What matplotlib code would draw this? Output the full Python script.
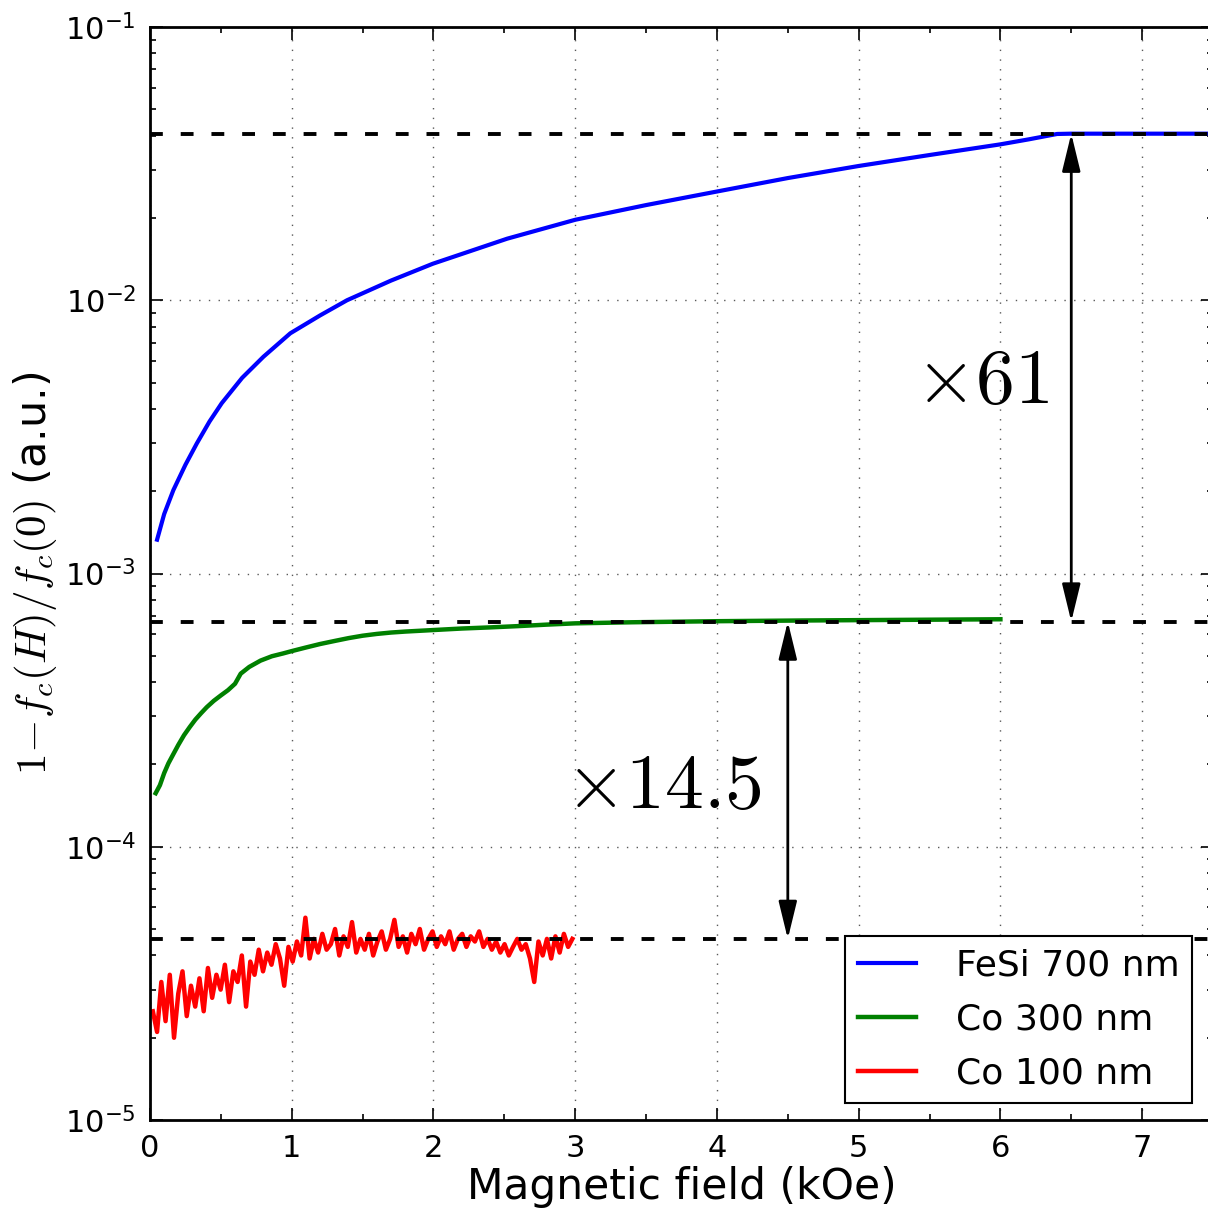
import numpy as np
import matplotlib
matplotlib.use("Agg")
import matplotlib.pyplot as plt
from matplotlib.ticker import MultipleLocator, FuncFormatter, LogLocator

# FeSi 700 nm
fesi_x = [0.05, 0.10, 0.165, 0.25, 0.33, 0.42, 0.506, 0.65, 0.80, 0.99, 1.2, 1.39,
          1.7, 1.995, 2.52, 3.0, 3.5, 4.0, 4.5, 5.0, 5.5, 6.0, 6.2, 6.4, 6.5, 7.0, 7.5]
fesi_y = [1.33e-3, 1.65e-3, 2.02e-3, 2.50e-3, 2.99e-3, 3.6e-3, 4.20e-3, 5.2e-3,
          6.21e-3, 7.57e-3, 8.8e-3, 1.00e-2, 1.18e-2, 1.36e-2, 1.68e-2, 1.97e-2,
          2.23e-2, 2.50e-2, 2.80e-2, 3.10e-2, 3.40e-2, 3.72e-2, 3.88e-2, 4.06e-2,
          4.07e-2, 4.07e-2, 4.07e-2]

# Co 300 nm
co300_x = [0.04, 0.07, 0.10, 0.13, 0.16, 0.20, 0.24, 0.28, 0.32, 0.36, 0.40, 0.45,
           0.50, 0.55, 0.60, 0.64, 0.70, 0.78, 0.86, 0.94, 1.0, 1.1, 1.2, 1.3, 1.4,
           1.5, 1.6, 1.7, 1.8, 2.0, 2.2, 2.4, 2.6, 2.8, 3.0, 3.2, 3.4, 3.6, 3.8,
           4.0, 4.3, 4.6, 5.0, 5.4, 5.8, 6.0]
co300_y = [1.57e-4, 1.68e-4, 1.86e-4, 2.02e-4, 2.16e-4, 2.36e-4, 2.56e-4, 2.74e-4,
           2.92e-4, 3.08e-4, 3.24e-4, 3.42e-4, 3.58e-4, 3.74e-4, 3.95e-4, 4.30e-4,
           4.55e-4, 4.80e-4, 4.98e-4, 5.10e-4, 5.20e-4, 5.36e-4, 5.52e-4, 5.66e-4,
           5.80e-4, 5.92e-4, 6.01e-4, 6.08e-4, 6.13e-4, 6.21e-4, 6.29e-4, 6.35e-4,
           6.42e-4, 6.50e-4, 6.57e-4, 6.60e-4, 6.63e-4, 6.65e-4, 6.67e-4, 6.69e-4,
           6.71e-4, 6.73e-4, 6.75e-4, 6.77e-4, 6.79e-4, 6.80e-4]

# Co 100 nm, field sweep 0.02 .. 2.98 kOe, values in units of 1e-5
co100_y = [2.5, 2.1, 3.2, 2.3, 3.4, 2.0, 2.9, 3.5, 2.4, 3.1, 2.6,
           3.3, 2.5, 3.6, 2.8, 3.4, 3.0, 3.7,
           2.7, 3.5, 3.2, 4.0, 2.6, 3.8, 3.4, 4.2, 3.5,
           4.1, 3.7, 4.4, 3.9, 3.1, 4.3, 3.8, 4.5, 4.0, 5.5,
           3.9, 4.6, 4.1, 4.8, 4.2, 4.4, 5.0, 4.0, 4.7, 4.3, 5.3, 4.1, 4.6, 4.2,
           4.8, 4.0, 4.5, 4.9, 4.2, 4.6, 5.4, 4.3, 4.7, 4.1, 4.8, 4.4, 5.0, 4.2,
           4.6, 4.9, 4.3,
           4.7, 4.4, 4.9, 4.2, 4.6, 4.8, 4.3, 4.7, 4.5, 4.9, 4.3, 4.6, 4.2, 4.5,
           4.1, 4.4, 4.0, 4.3,
           4.6, 4.2, 4.4, 3.9, 3.2, 4.5, 4.0, 4.6, 3.9, 4.7, 4.1, 4.8, 4.3, 4.6]
co100_x = np.linspace(0.02, 2.98, len(co100_y))

levels = [4.07e-2, 6.67e-4, 4.6e-5]
labels = ["FeSi 700 nm", "Co 300 nm", "Co 100 nm"]

W, H = 1208, 1218
fig = plt.figure(figsize=(W / 100, H / 100), dpi=100)
ax = fig.add_axes([150 / W, (H - 1120) / H, (1213 - 150) / W, (1120 - 27) / H])

ax.plot(fesi_x, fesi_y, color="#0000ff", lw=3, label=labels[0])
ax.plot(co300_x, co300_y, color="#008000", lw=3.2, label=labels[1])
ax.plot(co100_x, np.array(co100_y) * 1e-5, color="#ff0000", lw=3.2, label=labels[2])

for lv in levels:
    ax.axhline(lv, color="black", lw=2.8, dashes=(3.3, 4.6))

ax.set_yscale("log")
ax.set_xlim(0, 7.5)
ax.set_ylim(1e-5, 1e-1)

# double arrows between plateaus
arrow = dict(arrowstyle="<|-|>,head_length=1.15,head_width=0.28", mutation_scale=20,
             lw=2, color="black", shrinkA=0, shrinkB=0)
ax.annotate("", xy=(6.5, levels[0]), xytext=(6.5, levels[1]), arrowprops=arrow)
ax.annotate("", xy=(4.5, levels[1]), xytext=(4.5, levels[2]), arrowprops=arrow)
ax.text(5.40, 4.2e-3, r"$\times61$", fontsize=56, math_fontfamily="cm",
        ha="left", va="baseline")
ax.text(2.93, 1.39e-4, r"$\times14.5$", fontsize=56, math_fontfamily="cm",
        ha="left", va="baseline")

ax.xaxis.set_major_locator(MultipleLocator(1))
ax.xaxis.set_minor_locator(MultipleLocator(0.5))
ax.yaxis.set_major_locator(LogLocator(base=10, numticks=10))
ax.yaxis.set_minor_locator(LogLocator(base=10, subs=np.arange(2, 10), numticks=20))
ax.yaxis.set_major_formatter(FuncFormatter(
    lambda v, p: r"$\mathregular{10^{%d}}$" % int(round(np.log10(v)))))
ax.yaxis.set_minor_formatter(FuncFormatter(lambda v, p: ""))

ax.tick_params(which="both", direction="in", top=True, right=True, width=1.2)
ax.tick_params(which="major", length=9, labelsize=22, pad=10)
ax.tick_params(which="minor", length=4)
for s in ax.spines.values():
    s.set_linewidth(2)

ax.grid(True, which="major", color="0.35", lw=1, dashes=(1, 6))

ax.set_xlabel("Magnetic field (kOe)", fontsize=30.5, labelpad=2)
ax.set_ylabel(r"$1\!-\!f_c(H)/f_c(0)$ (a.u.)", fontsize=31, math_fontfamily="cm")
ax.yaxis.set_label_coords(-0.086, 0.5)

leg = ax.legend(loc="lower right", bbox_to_anchor=((1192 - 150) / 1063, (1120 - 1103) / 1093),
                borderaxespad=0, fontsize=26, fancybox=False, framealpha=1,
                edgecolor="black", handlelength=1.6, handletextpad=1.1,
                labelspacing=0.55, borderpad=0.35)
leg.get_frame().set_linewidth(1.5)

fig.savefig("out.png", dpi=100)
